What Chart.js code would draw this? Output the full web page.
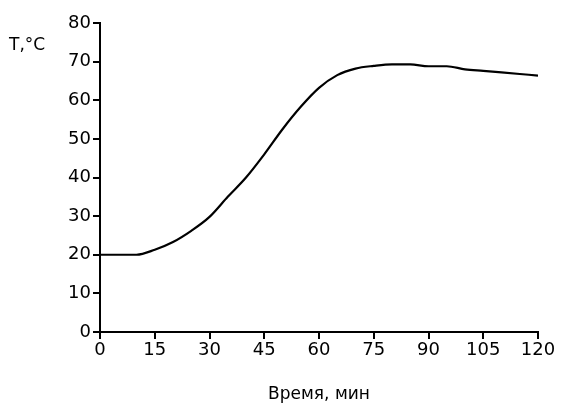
<!DOCTYPE html>
<html>
<head>
<meta charset="utf-8">
<script src="https://cdn.jsdelivr.net/npm/chart.js@4/dist/chart.umd.min.js"></script>
<style>
  html, body { margin: 0; padding: 0; background: #fff; }
  #wrap { width: 561px; height: 405px; }
</style>
</head>
<body>
<div id="wrap"><canvas id="grafico"></canvas></div>
<script>
// время, мин и температура, °C
const tempo = [0, 5, 10, 15, 20, 25, 30, 35, 40, 45, 50, 55, 60, 65, 70, 75, 80, 85, 90, 95, 100, 105, 110, 115, 120];
const temperatura = [20, 20, 20, 21.3, 23.3, 26.2, 29.8, 35, 40, 46, 52.5, 58.3, 63.2, 66.5, 68.2, 68.9, 69.3, 69.3, 68.8, 68.8, 68, 67.6, 67.2, 66.8, 66.4];
const tituloY = 'T,°C';
const tituloX = 'Время, мин';

const familia = '"DejaVu Sans", sans-serif';
const fonte = { family: familia, size: 17 };
const fonteTicks = { family: familia, size: 18 };

const rotuloY = {
    id: 'rotuloY',
    afterDraw(chart) {
        const ctx = chart.ctx;
        ctx.save();
        ctx.font = '17px ' + familia;
        ctx.fillStyle = '#000';
        ctx.textBaseline = 'middle';
        ctx.fillText(tituloY, 9, 46);
        ctx.restore();
    }
};

const ctx = document.getElementById('grafico').getContext('2d');
new Chart(ctx, {
    type: 'line',
    data: {
        datasets: [{
            data: tempo.map((t, i) => ({ x: t, y: temperatura[i] })),
            borderColor: '#000',
            borderWidth: 2.2,
            pointRadius: 0,
            fill: false,
            cubicInterpolationMode: 'monotone'
        }]
    },
    options: {
        responsive: true,
        maintainAspectRatio: false,
        animation: false,
        layout: { padding: { left: 10, right: 23, top: 23, bottom: 0 } },
        plugins: { legend: { display: false }, tooltip: { enabled: false } },
        scales: {
            x: {
                type: 'linear',
                min: 0,
                max: 120,
                ticks: { stepSize: 15, color: '#000', font: fonteTicks, padding: 1 },
                grid: { drawOnChartArea: false, drawTicks: true, tickLength: 7, color: '#000', lineWidth: 2 },
                border: { color: '#000', width: 2 },
                title: { display: true, text: tituloX, color: '#000', font: fonte, padding: 0 },
                afterFit: s => { s.height = 73; }
            },
            y: {
                min: 0,
                max: 80,
                ticks: { stepSize: 10, color: '#000', font: fonteTicks, padding: 2 },
                grid: { drawOnChartArea: false, drawTicks: true, tickLength: 7, color: '#000', lineWidth: 2 },
                border: { color: '#000', width: 2 },
                afterFit: s => { s.width = 90; }
            }
        }
    },
    plugins: [rotuloY]
});
</script>
</body>
</html>
